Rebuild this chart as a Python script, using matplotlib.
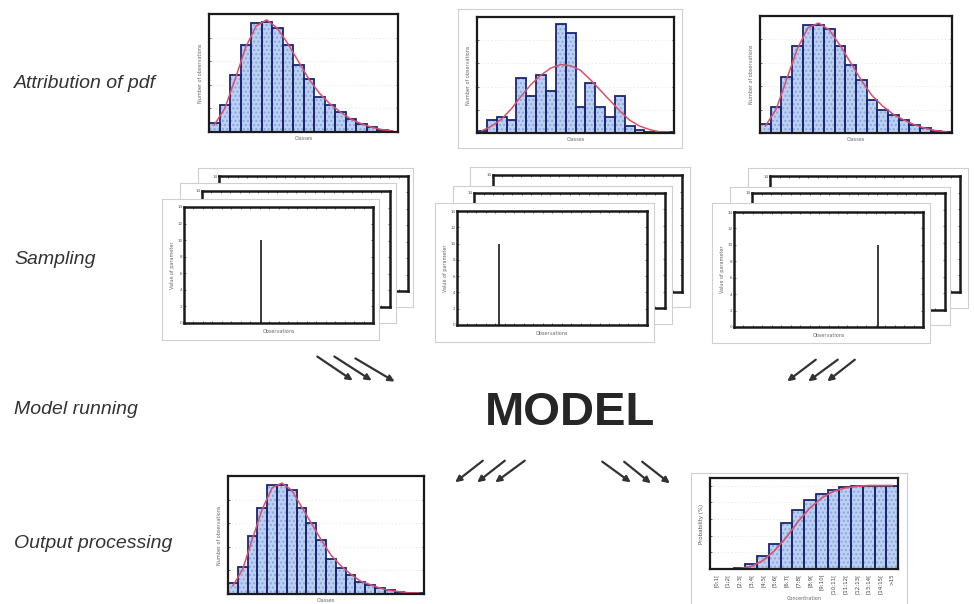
import matplotlib
matplotlib.use("Agg")
import matplotlib.pyplot as plt
import numpy as np

W, H = 974, 604
fig = plt.figure(figsize=(W / 100, H / 100), dpi=100)
fig.patch.set_facecolor("white")

# ---------------- data ----------------
stage_labels = ["Attribution of pdf", "Sampling", "Model running", "Output processing"]
model_label = "MODEL"

pdf1_counts = [8, 23, 48, 74, 92, 93, 88, 74, 57, 45, 30, 23, 17, 11, 7, 4, 2, 0]
pdf1_curve = [6, 20, 45, 72, 90, 95, 88, 75, 60, 45, 33, 24, 17, 11, 7, 4, 2, 1]

pdf2_counts = [2, 11, 14, 11, 47, 32, 50, 36, 94, 86, 22, 43, 22, 14, 32, 6, 3, 1, 1, 1]
pdf2_curve = [2, 6, 12, 21, 32, 42, 50, 56, 59, 58, 54, 46, 37, 28, 19, 11, 6, 3, 1, 1]

pdf3_counts = [8, 22, 48, 74, 92, 92, 89, 74, 58, 45, 28, 20, 15, 11, 7, 4, 2, 1]
pdf3_curve = [6, 20, 46, 72, 90, 94, 88, 75, 60, 45, 32, 23, 16, 11, 7, 4, 2, 1]

out_counts = [9, 23, 49, 73, 92, 92, 88, 73, 60, 46, 30, 22, 16, 10, 8, 5, 3, 2, 1, 1]
out_curve = [7, 21, 47, 72, 90, 94, 88, 74, 60, 46, 33, 24, 17, 11, 8, 5, 3, 2, 1, 1]

cdf_values = [0.0, 0.0, 0.01, 0.06, 0.16, 0.30, 0.55, 0.71, 0.83, 0.90, 0.95, 0.98, 0.99, 1.0, 1.0, 1.0]
cdf_curve = [0.0, 0.0, 0.005, 0.03, 0.10, 0.22, 0.38, 0.57, 0.73, 0.85, 0.93, 0.97, 0.99, 1.0, 1.0, 1.0]
cdf_labels = ["[0;1[", "[1;2[", "[2;3[", "[3;4[", "[4;5[", "[5;6[", "[6;7[", "[7;8[",
              "[8;9[", "[9;10[", "[10;11[", "[11;12[", "[12;13[", "[13;14[", "[14;15[", ">15"]

sample_values = [10, 10, 10]
sample_positions = [41, 22, 76]
sample_yticks = [0, 2, 4, 6, 8, 10, 12, 14]

hist_xlabel = "Classes"
hist_ylabel = "Number of observations"
sample_xlabel = "Observations"
sample_ylabel = "Value of parameter"
cdf_xlabel = "Concentration"
cdf_ylabel = "Probability (%)"

# ---------------- helpers ----------------
def px_axes(l, t, r, b):
    return fig.add_axes([l / W, 1 - b / H, (r - l) / W, (b - t) / H])


def frame_only(ax, color="#cfcfcf", lw=0.8):
    ax.set_xticks([])
    ax.set_yticks([])
    ax.set_facecolor("white")
    for s in ax.spines.values():
        s.set_color(color)
        s.set_linewidth(lw)


def style_axes(ax, lw=1.6):
    for s in ax.spines.values():
        s.set_color("#1a1a1a")
        s.set_linewidth(lw)
    ax.tick_params(direction="in", length=1.5, width=0.6, labelsize=3,
                   colors="#555555", pad=1, right=True, top=True)


def draw_hist(rect, counts, curve, ymax, outer=None):
    if outer is not None:
        frame_only(px_axes(*outer))
    ax = px_axes(*rect)
    n = len(counts)
    x = np.arange(n)
    ax.yaxis.grid(True, color="#e4e4d8", lw=0.5, ls=(0, (2, 3)))
    ax.set_axisbelow(True)
    ax.bar(x, counts, width=1, align="edge", color="#bcd0f2", edgecolor="#86a8e0",
           hatch="....", linewidth=0)
    ax.bar(x, counts, width=1, align="edge", fill=False, edgecolor="#1c2470", linewidth=1.3)
    ax.plot(x + 0.5, curve, color="#d9506e", lw=1.1)
    ax.set_xlim(0, n)
    ax.set_ylim(0, ymax)
    ax.set_xticks([])
    ax.set_yticks(np.linspace(0, ymax, 6))
    ax.set_yticklabels([])
    style_axes(ax)
    ax.set_xlabel(hist_xlabel, fontsize=3.5, color="#666666", labelpad=3)
    ax.set_ylabel(hist_ylabel, fontsize=3.5, color="#666666", labelpad=3)
    return ax


def draw_panel(outer, inner, xpos, val):
    frame_only(px_axes(*outer))
    ax = px_axes(*inner)
    ax.vlines(xpos, 0, val, color="#1a1a1a", lw=1.2)
    ax.set_xlim(0, 100)
    ax.set_ylim(0, 14)
    ax.set_yticks(sample_yticks)
    ax.set_xticks(np.arange(0, 101, 5))
    ax.set_xticklabels([])
    style_axes(ax, lw=1.8)
    ax.tick_params(axis="y", labelsize=3, labelright=False)
    ax.set_xlabel(sample_xlabel, fontsize=3.5, color="#666666", labelpad=3)
    ax.set_ylabel(sample_ylabel, fontsize=3.5, color="#666666", labelpad=2)
    return ax


# ---------------- top row: pdfs ----------------
draw_hist((209, 14, 398, 132), pdf1_counts, pdf1_curve, 100)
draw_hist((477, 17, 674, 133), pdf2_counts, pdf2_curve, 100, outer=(458, 9, 682, 148))
draw_hist((760, 16, 952, 133), pdf3_counts, pdf3_curve, 100)

# ---------------- sampling stacks ----------------
stacks = [
    [((198, 168, 413, 307), (219, 176, 408, 291)),
     ((180, 183, 396, 323), (202, 191, 390, 307)),
     ((162, 199, 379, 340), (184, 207, 373, 323))],
    [((470, 167, 690, 307), (493, 175, 682, 292)),
     ((453, 186, 672, 324), (474, 193, 665, 308)),
     ((435, 203, 654, 342), (457, 211, 647, 325))],
    [((748, 168, 968, 308), (770, 176, 960, 292)),
     ((730, 187, 950, 325), (752, 193, 945, 310)),
     ((712, 203, 930, 343), (734, 212, 923, 327))],
]
for stack, xpos, val in zip(stacks, sample_positions, sample_values):
    for outer, inner in stack:
        draw_panel(outer, inner, xpos, val)

# ---------------- output: histogram ----------------
draw_hist((228, 476, 424, 594), out_counts, out_curve, 100)

# ---------------- output: cumulative ----------------
frame_only(px_axes(691, 473, 907, 612))
cax = px_axes(710, 478, 898, 569)
n = len(cdf_values)
xc = np.arange(n)
cax.yaxis.grid(True, color="#e4e4d8", lw=0.5, ls=(0, (2, 3)))
cax.set_axisbelow(True)
cax.bar(xc, cdf_values, width=1, align="edge", color="#bcd0f2", edgecolor="#86a8e0",
        hatch="....", linewidth=0)
cax.bar(xc, cdf_values, width=1, align="edge", fill=False, edgecolor="#1c2470", linewidth=1.3)
cax.plot(xc + 0.5, cdf_curve, color="#d9506e", lw=1.2)
cax.set_xlim(0, n)
cax.set_ylim(0, 1.09)
cax.set_yticks([0, 0.2, 0.4, 0.6, 0.8, 1.0])
cax.set_yticklabels([])
cax.set_xticks(xc + 0.5)
cax.set_xticklabels(cdf_labels, rotation=90, fontsize=4, color="#444444")
style_axes(cax)
cax.tick_params(axis="x", length=0, labelsize=4, pad=3, colors="#444444")
cax.set_xlabel(cdf_xlabel, fontsize=3.5, color="#666666", labelpad=2)
cax.set_ylabel(cdf_ylabel, fontsize=4, color="#555555", labelpad=3)

# ---------------- stage labels ----------------
label_y = [83, 260, 410, 543]
for txt, y in zip(stage_labels, label_y):
    fig.text(14 / W, 1 - y / H, txt, fontsize=14, style="italic",
             family="Liberation Sans", color="#333333", va="center", ha="left")

fig.text(570 / W, 1 - 413 / H, model_label, fontsize=34, weight="bold",
         family="Liberation Sans", color="#262626", ha="center", va="center")

# ---------------- arrows ----------------
arrow_groups = [
    [((315, 355), (355, 382)), ((332, 355), (374, 382)), ((353, 357), (397, 383))],
    [((818, 358), (785, 383)), ((840, 358), (806, 383)), ((857, 358), (825, 383))],
    [((485, 459), (453, 484)), ((507, 459), (475, 484)), ((527, 459), (493, 484))],
    [((600, 460), (633, 484)), ((622, 460), (653, 485)), ((640, 460), (672, 485))],
]
for group in arrow_groups:
    for (x0, y0), (x1, y1) in group:
        fig.add_artist(matplotlib.patches.FancyArrowPatch(
            (x0 / W, 1 - y0 / H), (x1 / W, 1 - y1 / H), transform=fig.transFigure,
            arrowstyle="-|>", mutation_scale=9, lw=1.6, color="#333333"))

fig.savefig("out.png", dpi=100, facecolor="white")
